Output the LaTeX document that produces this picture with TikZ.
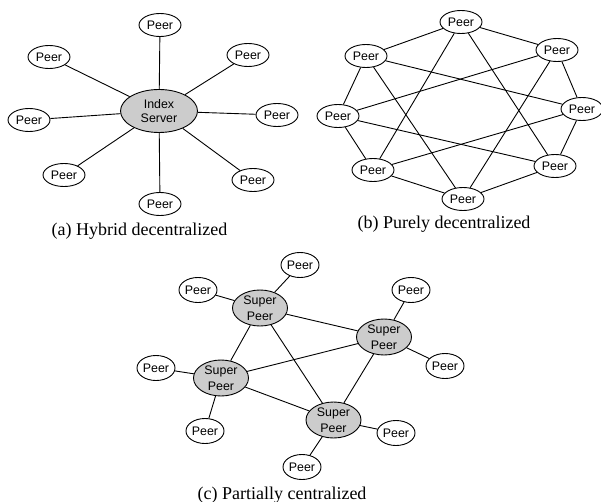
\documentclass[tikz,border=0pt]{standalone}
\usepackage{fontspec}
\setmainfont{Liberation Serif}
\newfontfamily\peerfont{Liberation Sans}
\usetikzlibrary{shapes.geometric}
\tikzset{
  peer/.style={ellipse, draw, line width=0.9pt, fill=white, inner sep=0pt,
    minimum width=42pt, minimum height=23pt, font=\peerfont\fontsize{12.4}{14}\selectfont},
  cpeer/.style={peer, minimum width=38pt, minimum height=25pt},
  server/.style={ellipse, draw, line width=0.9pt, fill=gray!40, inner sep=0pt, align=center,
    minimum width=77pt, minimum height=43pt, font=\peerfont\fontsize{12.4}{13.5}\selectfont},
  super/.style={ellipse, draw, line width=0.9pt, fill=gray!40, inner sep=0pt, align=center,
    minimum width=55pt, minimum height=36pt, font=\peerfont\fontsize{12.4}{15.5}\selectfont},
  link/.style={line width=0.9pt},
  caption/.style={font=\fontsize{18}{20}\selectfont, inner sep=0pt, anchor=base}
}
\begin{document}
\begin{tikzpicture}[x=1pt,y=-1pt]
\useasboundingbox (0,0) rectangle (601,502);
% (a) Hybrid decentralized
\node[server] (srv) at (159,111) {Index\\Server};
\node[peer] (a1) at (160,25) {Peer};
\node[peer] (a2) at (248,55) {Peer};
\node[peer] (a3) at (277,115) {Peer};
\node[peer] (a4) at (253,180) {Peer};
\node[peer] (a5) at (160,204) {Peer};
\node[peer] (a6) at (64,175) {Peer};
\node[peer] (a7) at (29,120) {Peer};
\node[peer] (a8) at (49,57) {Peer};
\foreach \p in {a1,a2,a3,a4,a5,a6,a7,a8} \draw[link] (srv) -- (\p);
\node[caption] (capa) at (139.5,236) {(a) Hybrid decentralized};
% (b) Purely decentralized
\node[peer] (b0) at (461,22) {Peer};
\node[peer] (b1) at (557,50) {Peer};
\node[peer] (b2) at (582,109) {Peer};
\node[peer] (b3) at (555,166) {Peer};
\node[peer] (b4) at (463,199) {Peer};
\node[peer] (b5) at (373,170) {Peer};
\node[peer] (b6) at (338,116) {Peer};
\node[peer] (b7) at (366,56) {Peer};
\foreach \u/\v in {b0/b1,b1/b2,b2/b3,b3/b4,b4/b5,b5/b6,b6/b7,b7/b0,
  b0/b3,b0/b5,b1/b4,b1/b6,b2/b5,b2/b7,b3/b6,b4/b7}
  \draw[link] (\u) -- (\v);
\node[caption] (capb) at (444,229) {(b) Purely decentralized};
% (c) Partially centralized
\node[super] (s1) at (260,308) {Super\\Peer};
\node[super] (s2) at (384,337) {Super\\Peer};
\node[super] (s3) at (221,378) {Super\\Peer};
\node[super] (s4) at (333.5,420) {Super\\Peer};
\node[cpeer] (c1) at (300,265) {Peer};
\node[cpeer] (c2) at (198,290) {Peer};
\node[cpeer] (c3) at (411,290) {Peer};
\node[cpeer] (c4) at (445,366) {Peer};
\node[cpeer] (c5) at (156,368) {Peer};
\node[cpeer] (c6) at (205,431) {Peer};
\node[cpeer] (c7) at (396,433) {Peer};
\node[cpeer] (c8) at (302,467) {Peer};
\foreach \u/\v in {s1/s2,s1/s3,s1/s4,s2/s3,s2/s4,s3/s4,
  s1/c1,s1/c2,s2/c3,s2/c4,s3/c5,s3/c6,s4/c7,s4/c8}
  \draw[link] (\u) -- (\v);
\node[caption] (capc) at (282,499) {(c) Partially centralized};
\end{tikzpicture}
\end{document}
